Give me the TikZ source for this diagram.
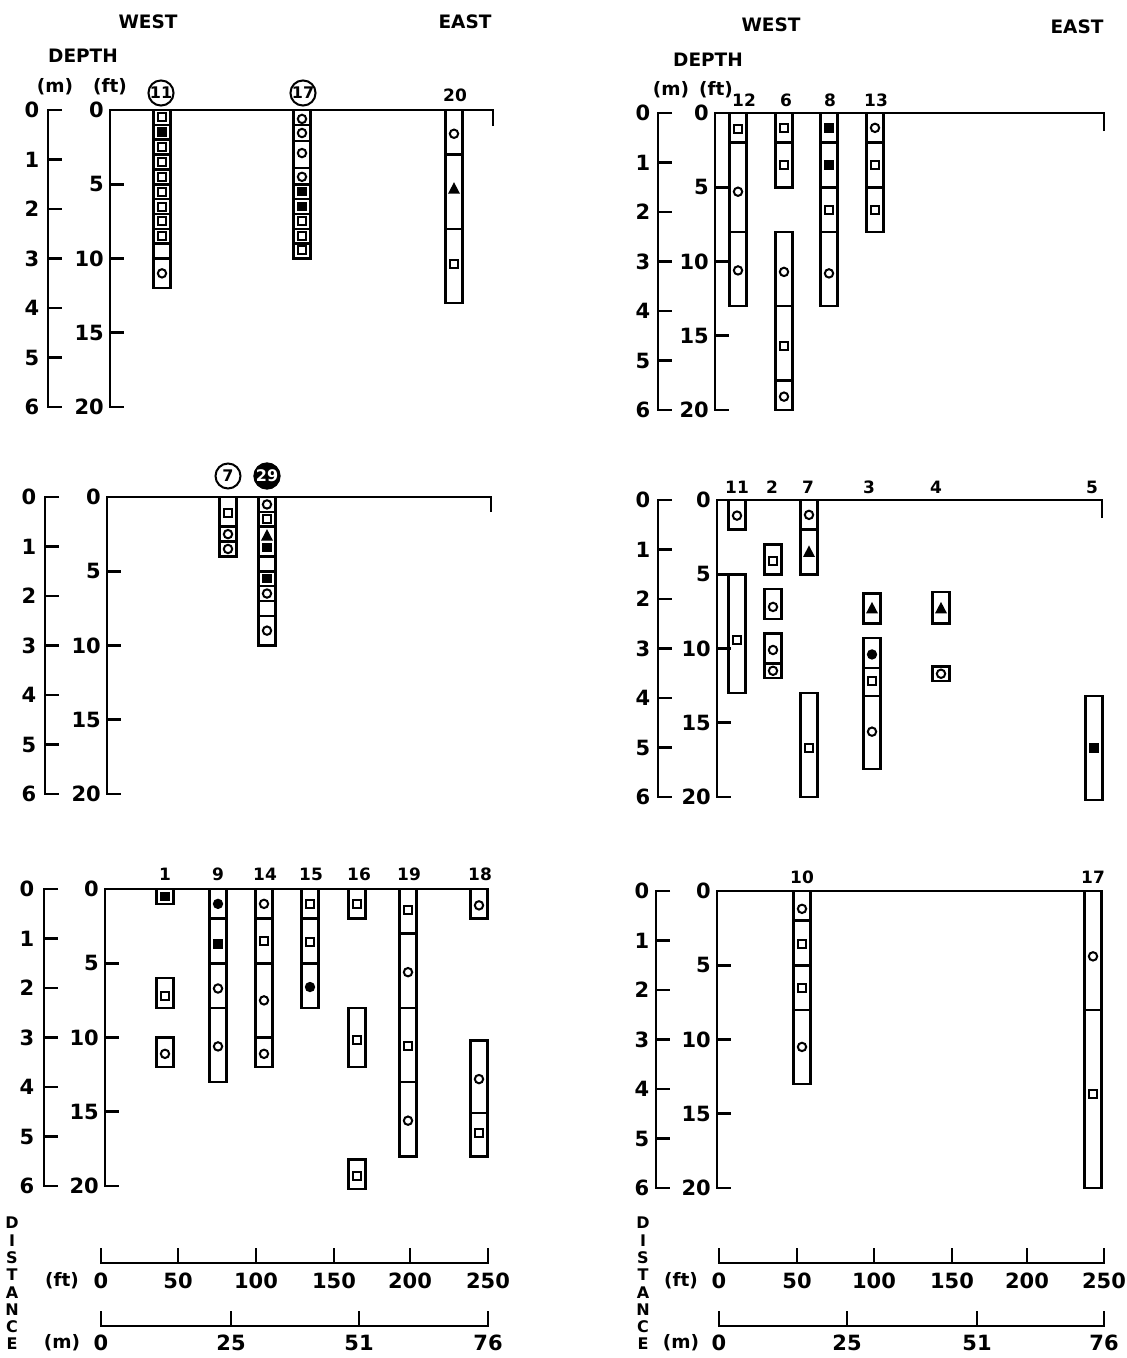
\documentclass[tikz,border=0pt]{standalone}
\usepackage{fontspec}
\setmainfont{DejaVu Sans}
\tikzset{
  ax/.style={line width=2.9pt},
  cb/.style={line width=2.5pt},
  mk/.style={line width=2pt},
  lab/.style={inner sep=0pt, font=\fontsize{21}{21}\selectfont\bfseries},
  bhl/.style={inner sep=0pt, font=\fontsize{17}{17}\selectfont\bfseries},
  hdr/.style={inner sep=0pt, font=\fontsize{18.5}{18.5}\selectfont\bfseries},
  dl/.style={inner sep=0pt, font=\fontsize{16}{16}\selectfont\bfseries},
  ring/.style={draw, circle, line width=2pt, minimum size=25pt, inner sep=0pt, font=\fontsize{16}{16}\selectfont\bfseries},
}
\def\sc{14.85}
\def\gy{0}
\newcommand{\Y}[1]{\gy+\sc*(#1)}
\newcommand{\bh}[3]{\draw[cb] ({#1-8.5},{\Y{#2}}) rectangle ({#1+8.5},{\Y{#3}});}
\newcommand{\dv}[2]{\draw[cb] ({#1-8.5},{\Y{#2}}) -- ({#1+8.5},{\Y{#2}});}
\newcommand{\mo}[2]{\draw[mk] ({#1},{\Y{#2}}) circle (4.2pt);}
\newcommand{\ms}[2]{\draw[mk] ({#1-4},{\Y{#2}-4}) rectangle ({#1+4},{\Y{#2}+4});}
\newcommand{\mS}[2]{\fill ({#1-4.8},{\Y{#2}-4.8}) rectangle ({#1+4.8},{\Y{#2}+4.8});}
\newcommand{\mC}[2]{\fill ({#1},{\Y{#2}}) circle (5.2pt);}
\newcommand{\mT}[2]{\fill ({#1},{\Y{#2}-6.5}) -- ({#1-6},{\Y{#2}+5}) -- ({#1+6},{\Y{#2}+5}) -- cycle;}
% #1 gy, #2 mX, #3 mLabX, #4 ftX, #5 rightX, #6 endtick
\newcommand{\axes}[6]{%
 \draw[ax] ({#2+14},#1) -- (#2,#1) -- (#2,{#1+297}) -- ({#2+14},{#1+297});
 \foreach \m in {1,...,5} \draw[ax] (#2,{#1+49.5*\m}) -- ({#2+14},{#1+49.5*\m});
 \foreach \m in {0,...,6} \node[lab] at (#3,{#1+49.5*\m}) {\m};
 \draw[ax] (#5,{#1+#6}) -- (#5,#1) -- (#4,#1) -- (#4,{#1+297}) -- ({#4+14},{#1+297});
 \foreach \f in {5,10,15} \draw[ax] (#4,{#1+14.85*\f}) -- ({#4+14},{#1+14.85*\f});
 \foreach \f in {0,5,10,15,20} \node[lab,anchor=east] at ({#4-6},{#1+14.85*\f}) {\f};
}
\begin{document}
\begin{tikzpicture}[x=1pt,y=-1pt]
\useasboundingbox (0,0) rectangle (1127,1358);
\fill[white] (0,0) rectangle (1127,1358);

% ================= TOP LEFT =================
\node[hdr] (tlw) at (148,22) {WEST};
\node[hdr] (tle) at (465,22) {EAST};
\node[hdr] (tld) at (83,56) {DEPTH};
\node[hdr] (tlm) at (55,87) {(m)};
\node[hdr] (tlf) at (110,87) {(ft)};
\axes{110}{48}{32}{110}{493}{16}
\def\gy{110}
\node[ring] (b11a) at (161,93) {11};
\node[ring] (b17a) at (303,93) {17};
\node[bhl] (b20a) at (455,95) {20};
% 11
\bh{162}{0}{12}
\foreach \d in {1,...,10} {\dv{162}{\d}}
\ms{162}{0.5} \mS{162}{1.5}
\foreach \d in {2.5,3.5,4.5,5.5,6.5,7.5,8.5} {\ms{162}{\d}}
\mo{162}{11}
% 17
\bh{302}{0}{10}
\foreach \d in {1,2.1,3.9,5,6,7,8,9} {\dv{302}{\d}}
\mo{302}{0.6} \mo{302}{1.55} \mo{302}{2.9} \mo{302}{4.5}
\mS{302}{5.5} \mS{302}{6.5}
\ms{302}{7.5} \ms{302}{8.5} \ms{302}{9.4}
% 20
\bh{454}{0}{13} \dv{454}{3} \dv{454}{8}
\mo{454}{1.6} \mT{454}{5.3} \ms{454}{10.4}

% ================= TOP RIGHT =================
\node[hdr] (trw) at (771,25) {WEST};
\node[hdr] (tre) at (1077,27) {EAST};
\node[hdr] (trd) at (708,60) {DEPTH};
\node[hdr] (trm) at (671,90) {(m)};
\node[hdr] (trf) at (716,90) {(ft)};
\axes{113}{658}{643}{715}{1104}{18}
\def\gy{113}
\node[bhl] (b12) at (744,100) {12};
\node[bhl] (b6) at (786,100) {6};
\node[bhl] (b8) at (830,100) {8};
\node[bhl] (b13) at (876,100) {13};
% 12
\bh{738}{0}{13} \dv{738}{2} \dv{738}{8}
\ms{738}{1.1} \mo{738}{5.3} \mo{738}{10.6}
% 6
\bh{784}{0}{5} \dv{784}{2}
\ms{784}{1.0} \ms{784}{3.5}
\bh{784}{8}{20} \dv{784}{13} \dv{784}{18}
\mo{784}{10.7} \ms{784}{15.7} \mo{784}{19.1}
% 8
\bh{829}{0}{13} \dv{829}{2} \dv{829}{5} \dv{829}{8}
\mS{829}{1.0} \mS{829}{3.5} \ms{829}{6.5} \mo{829}{10.8}
% 13
\bh{875}{0}{8} \dv{875}{2} \dv{875}{5}
\mo{875}{1.0} \ms{875}{3.5} \ms{875}{6.5}

% ================= MIDDLE LEFT =================
\axes{497}{45}{29}{107}{491}{15}
\def\gy{497}
\node[ring] (b7a) at (228,476) {7};
\node[ring,fill=black,text=white] (b29) at (267,476) {29};
% 7
\bh{228}{0}{4} \dv{228}{2} \dv{228}{3}
\ms{228}{1.1} \mo{228}{2.5} \mo{228}{3.5}
% 29
\bh{267}{0}{10}
\foreach \d in {1,2,4,5,6,7,8} {\dv{267}{\d}}
\mo{267}{0.5} \ms{267}{1.5} \mT{267}{2.6} \mS{267}{3.4}
\mS{267}{5.5} \mo{267}{6.5} \mo{267}{9}

% ================= MIDDLE RIGHT =================
\axes{500}{658}{643}{717}{1102}{18}
\def\gy{500}
\node[bhl] (c11) at (737,487) {11};
\node[bhl] (c2) at (772,487) {2};
\node[bhl] (c7) at (808,487) {7};
\node[bhl] (c3) at (869,487) {3};
\node[bhl] (c4) at (936,487) {4};
\node[bhl] (c5) at (1092,487) {5};
% 11
\bh{737}{0}{2} \mo{737}{1.05}
\bh{737}{5}{13} \ms{737}{9.4}
% 2
\bh{773}{3}{5} \ms{773}{4.1}
\bh{773}{6}{8} \mo{773}{7.2}
\bh{773}{9}{12} \dv{773}{11} \mo{773}{10.1} \mo{773}{11.5}
% 7
\bh{809}{0}{5} \dv{809}{2} \mo{809}{1.0} \mT{809}{3.5}
\bh{809}{13}{20} \ms{809}{16.7}
% 3
\bh{872}{6.3}{8.3} \mT{872}{7.3}
\bh{872}{9.3}{18.1} \dv{872}{11.3} \dv{872}{13.2}
\mC{872}{10.4} \ms{872}{12.2} \mo{872}{15.6}
% 4
\bh{941}{6.2}{8.3} \mT{941}{7.3}
\bh{941}{11.2}{12.2} \mo{941}{11.7}
% 5
\bh{1094}{13.2}{20.2} \mS{1094}{16.7}

% ================= BOTTOM LEFT =================
\axes{889}{44}{27}{105}{488}{0}
\def\gy{889}
\node[bhl] (d1) at (165,874) {1};
\node[bhl] (d9) at (218,874) {9};
\node[bhl] (d14) at (265,874) {14};
\node[bhl] (d15) at (311,874) {15};
\node[bhl] (d16) at (359,874) {16};
\node[bhl] (d19) at (409,874) {19};
\node[bhl] (d18) at (480,874) {18};
% 1
\bh{165}{0}{1} \mS{165}{0.5}
\bh{165}{6}{8} \ms{165}{7.2}
\bh{165}{10}{12} \mo{165}{11.1}
% 9
\bh{218}{0}{13} \dv{218}{2} \dv{218}{5} \dv{218}{8}
\mC{218}{1} \mS{218}{3.7} \mo{218}{6.7} \mo{218}{10.6}
% 14
\bh{264}{0}{12} \dv{264}{2} \dv{264}{5} \dv{264}{10}
\mo{264}{1} \ms{264}{3.5} \mo{264}{7.5} \mo{264}{11.1}
% 15
\bh{310}{0}{8} \dv{310}{2} \dv{310}{5}
\ms{310}{1} \ms{310}{3.6} \mC{310}{6.6}
% 16
\bh{357}{0}{2} \ms{357}{1}
\bh{357}{8}{12} \ms{357}{10.2}
\bh{357}{18.2}{20.2} \ms{357}{19.3}
% 19
\bh{408}{0}{18} \dv{408}{3} \dv{408}{8} \dv{408}{13}
\ms{408}{1.4} \mo{408}{5.6} \ms{408}{10.6} \mo{408}{15.6}
% 18
\bh{479}{0}{2} \mo{479}{1.1}
\bh{479}{10.2}{18} \dv{479}{15.1}
\mo{479}{12.8} \ms{479}{16.4}

% ================= BOTTOM RIGHT =================
\axes{891}{656}{642}{717}{1101}{0}
\def\gy{891}
\node[bhl] (e10) at (802,877) {10};
\node[bhl] (e17) at (1093,877) {17};
% 10
\bh{802}{0}{13} \dv{802}{2} \dv{802}{5} \dv{802}{8}
\mo{802}{1.2} \ms{802}{3.6} \ms{802}{6.5} \mo{802}{10.5}
% 17
\bh{1093}{0}{20} \dv{1093}{8}
\mo{1093}{4.4} \ms{1093}{13.7}

% ================= DISTANCE SCALES =================
\foreach \l [count=\i from 0] in {D,I,S,T,A,N,C,E} {
  \node[dl] at (12,{1223+17.3*\i}) {\l};
  \node[dl] at (643,{1223+17.3*\i}) {\l};
}
\node[hdr] (lft) at (62,1281) {(ft)};
\node[hdr] (lm) at (62,1343) {(m)};
\node[hdr] (rft) at (681,1281) {(ft)};
\node[hdr] (rm) at (681,1343) {(m)};
% left ft
\draw[ax] (101,1248) -- (101,1263) -- (488,1263) -- (488,1248);
\foreach \x in {178,256,334,410} \draw[ax] (\x,1263) -- (\x,1248);
\foreach \x/\t in {101/0,178/50,256/100,334/150,410/200,488/250} \node[lab] at (\x,1281) {\t};
% left m
\draw[ax] (101,1311) -- (101,1326) -- (488,1326) -- (488,1311);
\foreach \x in {231,359} \draw[ax] (\x,1326) -- (\x,1311);
\foreach \x/\t in {101/0,231/25,359/51,488/76} \node[lab] at (\x,1343) {\t};
% right ft
\draw[ax] (719,1248) -- (719,1263) -- (1104,1263) -- (1104,1248);
\foreach \x in {797,874,952,1027} \draw[ax] (\x,1263) -- (\x,1248);
\foreach \x/\t in {719/0,797/50,874/100,952/150,1027/200,1104/250} \node[lab] at (\x,1281) {\t};
% right m
\draw[ax] (719,1311) -- (719,1326) -- (1104,1326) -- (1104,1311);
\foreach \x in {847,977} \draw[ax] (\x,1326) -- (\x,1311);
\foreach \x/\t in {719/0,847/25,977/51,1104/76} \node[lab] at (\x,1343) {\t};
\end{tikzpicture}
\end{document}
